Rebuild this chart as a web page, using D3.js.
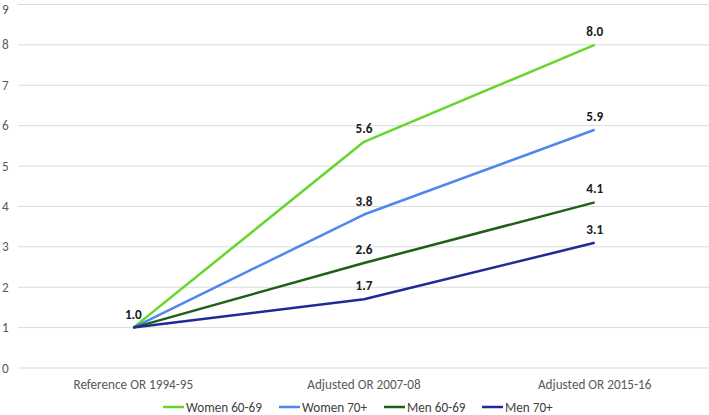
<!DOCTYPE html>
<html><head><meta charset="utf-8">
<script src="https://cdn.jsdelivr.net/npm/d3@7"></script>
<style>body{margin:0;background:#fff;} svg{display:block;}</style>
</head><body>
<svg id="chart" width="709" height="415"></svg>
<script>
const categories = ["Reference OR 1994-95", "Adjusted OR 2007-08", "Adjusted OR 2015-16"];
const seriesNames = ["Women 60-69", "Women 70+", "Men 60-69", "Men 70+"];
const women6069 = [1.0, 5.6, 8.0];
const women70 = [1.0, 3.8, 5.9];
const men6069 = [1.0, 2.6, 4.1];
const men70 = [1.0, 1.7, 3.1];
const yTicks = [0,1,2,3,4,5,6,7,8,9];
const colors = ["#66d62a", "#4f86f0", "#1f5f17", "#1f2a99"];
const seriesValues = [women6069, women70, men6069, men70];

(function(){
const svg = d3.select("#chart");
const font = "Carlito, Calibri, Lato, sans-serif";
const fs = 13.2;
const mLeft = 18, mRight = 710, mTop = 4.5, mBottom = 368;
const x = d3.scalePoint().domain(categories).range([mLeft, mRight]).padding(0.5);
const y = d3.scaleLinear().domain([0, 9]).range([mBottom, mTop]);

svg.append("g").selectAll("line").data(yTicks).join("line")
  .attr("x1", mLeft).attr("x2", 709)
  .attr("y1", d => y(d)).attr("y2", d => y(d))
  .attr("stroke", "#d9dcdc").attr("stroke-width", 1);

svg.append("g").selectAll("text").data(yTicks).join("text")
  .attr("x", 2).attr("y", d => Math.max(y(d) + 4.5, 13.5))
  .attr("font-family", font).attr("font-size", fs).attr("fill", "#595959")
  .text(d => d);

svg.append("g").selectAll("text").data(categories).join("text")
  .attr("x", d => x(d)).attr("y", 389).attr("text-anchor", "middle")
  .attr("font-family", font).attr("font-size", fs).attr("fill", "#595959")
  .text(d => d);

const line = d3.line().x((d, i) => x(categories[i])).y(d => y(d));
seriesValues.forEach((vals, s) => {
  svg.append("path").datum(vals).attr("d", line)
    .attr("fill", "none").attr("stroke", colors[s]).attr("stroke-width", 2.5)
    .attr("stroke-linejoin", "round");
});

seriesValues.forEach((vals, s) => {
  vals.forEach((v, i) => {
    if (i === 0 && s > 0) return;
    svg.append("text").attr("x", x(categories[i])).attr("y", y(v) - 9)
      .attr("text-anchor", "middle").attr("font-family", font).attr("font-size", fs)
      .attr("fill", "#1a1a1a").attr("font-weight", 600)
      .text(v.toFixed(1));
  });
});

const legendX = [163, 279, 384, 482];
const lg = svg.append("g");
seriesNames.forEach((n, i) => {
  lg.append("line").attr("x1", legendX[i]).attr("x2", legendX[i] + 21)
    .attr("y1", 407).attr("y2", 407).attr("stroke", colors[i]).attr("stroke-width", 2.5);
  lg.append("text").attr("x", legendX[i] + 23).attr("y", 411.5)
    .attr("font-family", font).attr("font-size", fs).attr("fill", "#404040").text(n);
});
})();
</script>
</body></html>
